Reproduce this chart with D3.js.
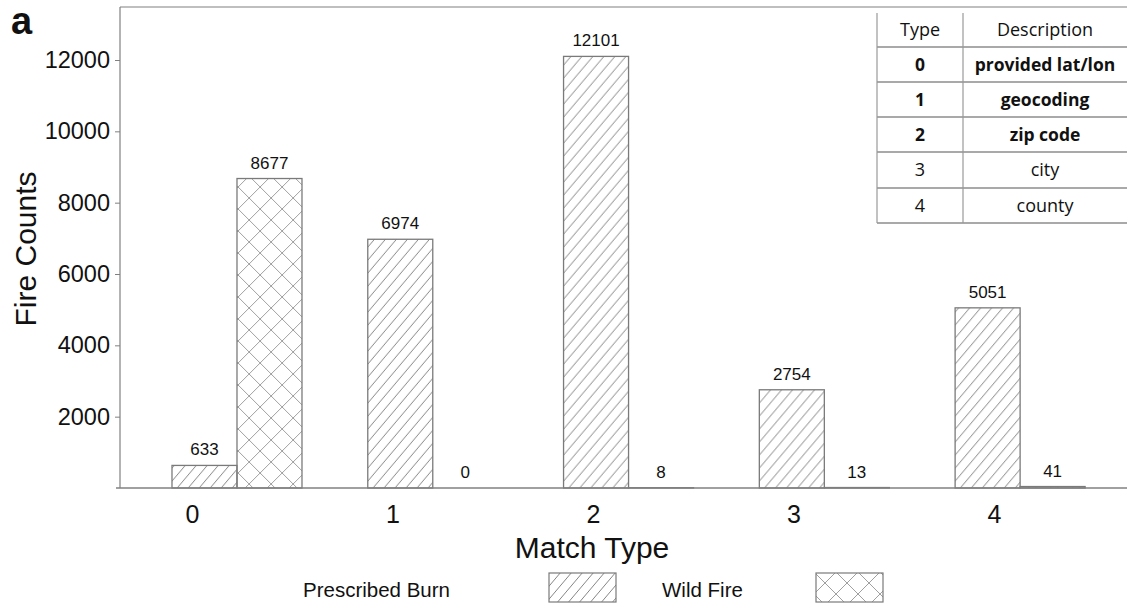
<!DOCTYPE html>
<html>
<head>
<meta charset="utf-8">
<script src="https://cdn.jsdelivr.net/npm/d3@7"></script>
<style>
  html, body { margin: 0; padding: 0; background: #fff; }
  svg { display: block; }
</style>
</head>
<body>
<svg id="chart" width="1127" height="603"></svg>
<script>
// ---- data ----
const categories = ["0", "1", "2", "3", "4"];
const seriesNames = ["Prescribed Burn", "Wild Fire"];
const prescribedBurn = [633, 6974, 12101, 2754, 5051];
const wildFire = [8677, 0, 8, 13, 41];
const yTickValues = [2000, 4000, 6000, 8000, 10000, 12000];
const tableHeader = ["Type", "Description"];
const tableTypes = ["0", "1", "2", "3", "4"];
const tableDescriptions = ["provided lat/lon", "geocoding", "zip code", "city", "county"];
const tableBold = [true, true, true, false, false];

const W = 1127, H = 603;
const svg = d3.select("#chart");
const font = "'Liberation Sans', Arial, sans-serif";
const tableFont = "'Open Sans', 'Noto Sans', sans-serif";

// ---- patterns ----
const defs = svg.append("defs");
const pDiag = defs.append("pattern").attr("id", "diag")
  .attr("patternUnits", "userSpaceOnUse").attr("width", 11).attr("height", 13);
pDiag.append("path").attr("d", "M0,13 L11,0 M-1,1.2 L1,-1.2 M10,14.2 L12,11.8")
  .attr("stroke", "#858585").attr("stroke-width", 1).attr("fill", "none");

const pCross = defs.append("pattern").attr("id", "cross")
  .attr("patternUnits", "userSpaceOnUse").attr("width", 22).attr("height", 22);
pCross.append("path").attr("d", "M0,0 L22,22 M22,0 L0,22")
  .attr("stroke", "#a0a0a0").attr("stroke-width", 1).attr("fill", "none");

const fills = ["url(#diag)", "url(#cross)"];

// ---- scales ----
const plotLeft = 120, plotTop = 7, baseY = 488;
const y = d3.scaleLinear().domain([0, 13500]).range([baseY, 6.5]);
const xGroup = d3.scaleBand().domain(categories).range([139.1, 1118]).padding(0);
const pairW = 130;
const xSub = d3.scaleBand().domain(seriesNames)
  .range([(xGroup.bandwidth() - pairW) / 2, (xGroup.bandwidth() + pairW) / 2]).padding(0);
const xAxisScale = d3.scalePoint().domain(categories).range([192, 994]);

// ---- frame ----
svg.append("line").attr("x1", plotLeft).attr("x2", W).attr("y1", plotTop).attr("y2", plotTop)
  .attr("stroke", "#808080").attr("stroke-width", 1.2);

// ---- bars ----
const rows = categories.map((c, i) => ({ cat: c, vals: [prescribedBurn[i], wildFire[i]] }));
const g = svg.append("g");
const groups = g.selectAll("g.grp").data(rows).join("g")
  .attr("transform", d => `translate(${xGroup(d.cat)},0)`);

groups.selectAll("rect").data(d => d.vals.map((v, k) => ({ v, k })))
  .join("rect")
  .attr("x", d => xSub(seriesNames[d.k]))
  .attr("width", xSub.bandwidth())
  .attr("y", d => y(d.v))
  .attr("height", d => baseY - y(d.v))
  .attr("fill", d => fills[d.k])
  .attr("stroke", "#7a7a7a")
  .attr("stroke-width", 1.3);

groups.selectAll("text").data(d => d.vals.map((v, k) => ({ v, k })))
  .join("text")
  .attr("x", d => xSub(seriesNames[d.k]) + xSub.bandwidth() / 2)
  .attr("y", d => y(d.v) - 10)
  .attr("text-anchor", "middle")
  .attr("font-family", font).attr("font-size", 17).attr("fill", "#111")
  .text(d => d.v);

// ---- axes ----
const yAxis = svg.append("g").attr("transform", `translate(${plotLeft},0)`)
  .call(d3.axisLeft(y).tickValues(yTickValues).tickSize(5).tickPadding(5).tickFormat(d3.format("d")));
yAxis.select(".domain").remove();
yAxis.selectAll(".tick line").attr("stroke", "#808080");
yAxis.selectAll("text").attr("font-family", font).attr("font-size", 23.5).attr("fill", "#111");

svg.append("line").attr("x1", plotLeft).attr("x2", plotLeft).attr("y1", plotTop).attr("y2", baseY)
  .attr("stroke", "#808080").attr("stroke-width", 1.2);
svg.append("line").attr("x1", plotLeft - 4).attr("x2", W).attr("y1", baseY).attr("y2", baseY)
  .attr("stroke", "#808080").attr("stroke-width", 1.4);

const xAxis = svg.append("g").attr("transform", `translate(0,${baseY})`)
  .call(d3.axisBottom(xAxisScale).tickSize(0).tickPadding(0));
xAxis.select(".domain").remove();
xAxis.selectAll("text").attr("font-family", font).attr("font-size", 25).attr("fill", "#111")
  .attr("dy", null).attr("y", 35);

// ---- axis titles ----
svg.append("text").attr("transform", "translate(36,249) rotate(-90)")
  .attr("text-anchor", "middle").attr("font-family", font).attr("font-size", 30).attr("fill", "#111")
  .text("Fire Counts");
svg.append("text").attr("x", 592).attr("y", 558)
  .attr("text-anchor", "middle").attr("font-family", font).attr("font-size", 30).attr("fill", "#111")
  .text("Match Type");
svg.append("text").attr("x", 11).attr("y", 34)
  .attr("font-family", font).attr("font-size", 38).attr("font-weight", "bold").attr("fill", "#111")
  .text("a");

// ---- legend ----
const legendText = [{ x: 303, anchor: "start" }, { x: 662, anchor: "start" }];
const legendBox = [549, 816];
seriesNames.forEach((name, k) => {
  svg.append("text").attr("x", legendText[k].x).attr("y", 597)
    .attr("font-family", font).attr("font-size", 20.5).attr("fill", "#111").text(name);
  svg.append("rect").attr("x", legendBox[k]).attr("y", 573).attr("width", 67).attr("height", 29)
    .attr("fill", fills[k]).attr("stroke", "#7a7a7a").attr("stroke-width", 1.2);
});

// ---- table ----
const tX0 = 877, tX1 = 963, tX2 = 1127;
const rowLines = [47, 82, 117, 152, 188, 223];
const tTop = 13;
const tbl = svg.append("g");
tbl.append("rect").attr("x", tX0).attr("y", 8).attr("width", tX2 - tX0).attr("height", 223 - 8)
  .attr("fill", "#fff");
tbl.selectAll("line.h").data(rowLines).join("line")
  .attr("x1", tX0).attr("x2", tX2).attr("y1", d => d).attr("y2", d => d)
  .attr("stroke", "#555").attr("stroke-width", 1.2);
[tX0, tX1].forEach(x => {
  tbl.append("line").attr("x1", x).attr("x2", x).attr("y1", tTop).attr("y2", 223)
    .attr("stroke", "#999").attr("stroke-width", 1.2);
});
const rowTops = [tTop].concat(rowLines.slice(0, -1));
const rowBottoms = rowLines;
const cellRows = [{ a: tableHeader[0], b: tableHeader[1], bold: false }]
  .concat(tableTypes.map((t, i) => ({ a: t, b: tableDescriptions[i], bold: tableBold[i] })));
cellRows.forEach((r, i) => {
  const cy = (rowTops[i] + rowBottoms[i]) / 2;
  [[r.a, (tX0 + tX1) / 2], [r.b, (tX1 + tX2) / 2]].forEach(([txt, cx]) => {
    tbl.append("text").attr("x", cx).attr("y", cy).attr("dy", "0.35em")
      .attr("text-anchor", "middle").attr("font-family", tableFont)
      .attr("font-size", r.bold ? 17.5 : 18).attr("font-weight", r.bold ? "bold" : "normal").attr("fill", "#111")
      .text(txt);
  });
});
</script>
</body>
</html>
